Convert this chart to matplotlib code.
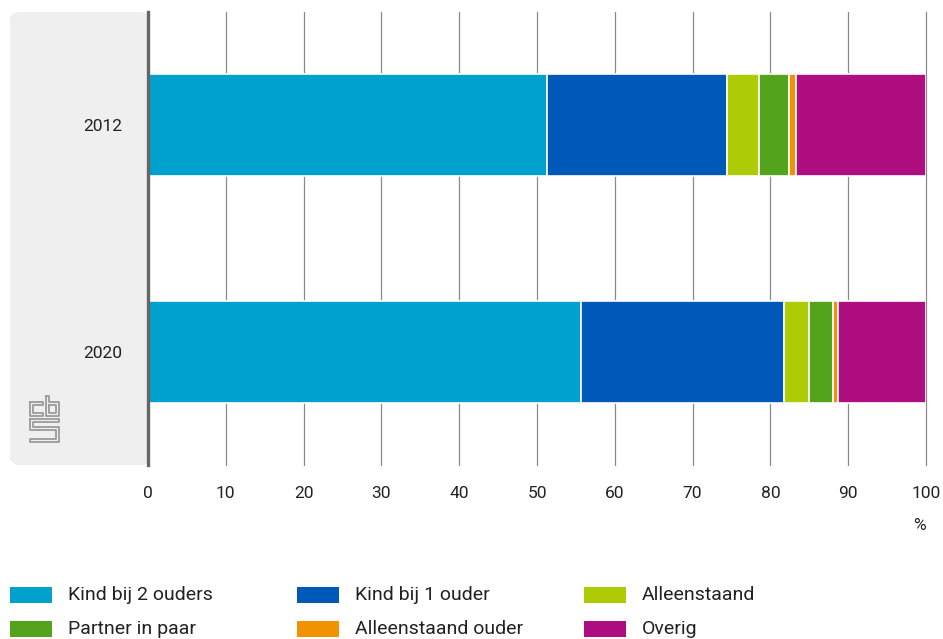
import matplotlib
matplotlib.use("Agg")
import matplotlib.pyplot as plt
from matplotlib.patches import FancyBboxPatch, Rectangle
from matplotlib.lines import Line2D

years = ["2012", "2020"]
series = ["Kind bij 2 ouders", "Kind bij 1 ouder", "Alleenstaand",
          "Partner in paar", "Alleenstaand ouder", "Overig"]
colors = ["#00a1cd", "#0058b8", "#afcb05", "#53a31d", "#f39200", "#af0e80"]
values = {
    "Kind bij 2 ouders": [51.3, 55.7],
    "Kind bij 1 ouder": [23.1, 26.1],
    "Alleenstaand": [4.1, 3.2],
    "Partner in paar": [3.9, 3.0],
    "Alleenstaand ouder": [0.9, 0.7],
    "Overig": [16.7, 11.3],
}
xticks = [0, 10, 20, 30, 40, 50, 60, 70, 80, 90, 100]

plt.rcParams['font.family'] = ['Roboto', 'DejaVu Sans']

W, H = 943, 639
fig = plt.figure(figsize=(W / 100, H / 100), dpi=100)

# gray panel behind category labels
panel = FancyBboxPatch((10 / W, 1 - 465 / H), (150 - 10) / W, (465 - 12) / H,
                       boxstyle="round,pad=0,rounding_size=0.012",
                       transform=fig.transFigure, facecolor="#efefef",
                       edgecolor="none", zorder=-5)
fig.patches.append(panel)

ax = fig.add_axes([148 / W, 1 - 465 / H, (926 - 148) / W, (465 - 12) / H])
ax.set_facecolor("none")
ax.set_zorder(2)

ypos = list(range(len(years)))
left = [0.0] * len(years)
for s, c in zip(series, colors):
    ax.barh(ypos, values[s], left=left, height=0.45, color=c,
            edgecolor="white", linewidth=1.2, zorder=3)
    left = [l + v for l, v in zip(left, values[s])]

ax.set_xlim(0, 100)
ax.set_ylim(1.5, -0.5)
ax.set_xticks(xticks)
ax.set_xticklabels([str(t) for t in xticks], fontsize=12.5, color="#222222")
ax.set_yticks(ypos)
ax.set_yticklabels(years, fontsize=12.5, color="#222222")
ax.tick_params(axis="x", length=0, pad=15)
ax.tick_params(axis="y", length=0, pad=18.5)
ax.grid(axis="x", color="#8a8a8a", linewidth=0.9, zorder=1)
for gl in ax.get_xgridlines():
    gl.set_clip_on(False)
for sp in ["top", "right", "bottom"]:
    ax.spines[sp].set_visible(False)
ax.spines["left"].set_color("#666666")
ax.spines["left"].set_linewidth(2.4)
ax.spines["left"].set_zorder(5)

fig.text(926 / W, 1 - 526 / H, "%", ha="right", va="center", fontsize=12.5, color="#222222")

# legend
cols_x = [10, 297, 584]
rows_y = [595, 629]
for i, (s, c) in enumerate(zip(series, colors)):
    cx = cols_x[i % 3]
    cy = rows_y[i // 3]
    fig.patches.append(Rectangle((cx / W, 1 - (cy + 8) / H), 42 / W, 16 / H,
                                 transform=fig.transFigure, facecolor=c,
                                 edgecolor="none"))
    fig.text((cx + 58) / W, 1 - cy / H, s, ha="left", va="center",
             fontsize=14, color="#222222")

# simplified CBS logo
def fx(x):
    return x / W
def fy(y):
    return 1 - y / H
lc = "#9a9a9a"
paths = [
    [(30, 402), (43, 402), (43, 405), (33, 405), (33, 413), (43, 413), (43, 416), (30, 416), (30, 402)],
    [(46, 396), (49, 396), (49, 402), (59, 402), (59, 416), (46, 416), (46, 396)],
    [(49, 405), (56, 405), (56, 413), (49, 413), (49, 405)],
    [(30, 419), (59, 419), (59, 422), (33, 422), (33, 427), (59, 427), (59, 442), (30, 442),
     (30, 439), (56, 439), (56, 430), (30, 430), (30, 419)],
]
for p in paths:
    fig.add_artist(Line2D([fx(a) for a, b in p], [fy(b) for a, b in p],
                          transform=fig.transFigure, color=lc, linewidth=1.3))

fig.savefig("out.png", dpi=100)
